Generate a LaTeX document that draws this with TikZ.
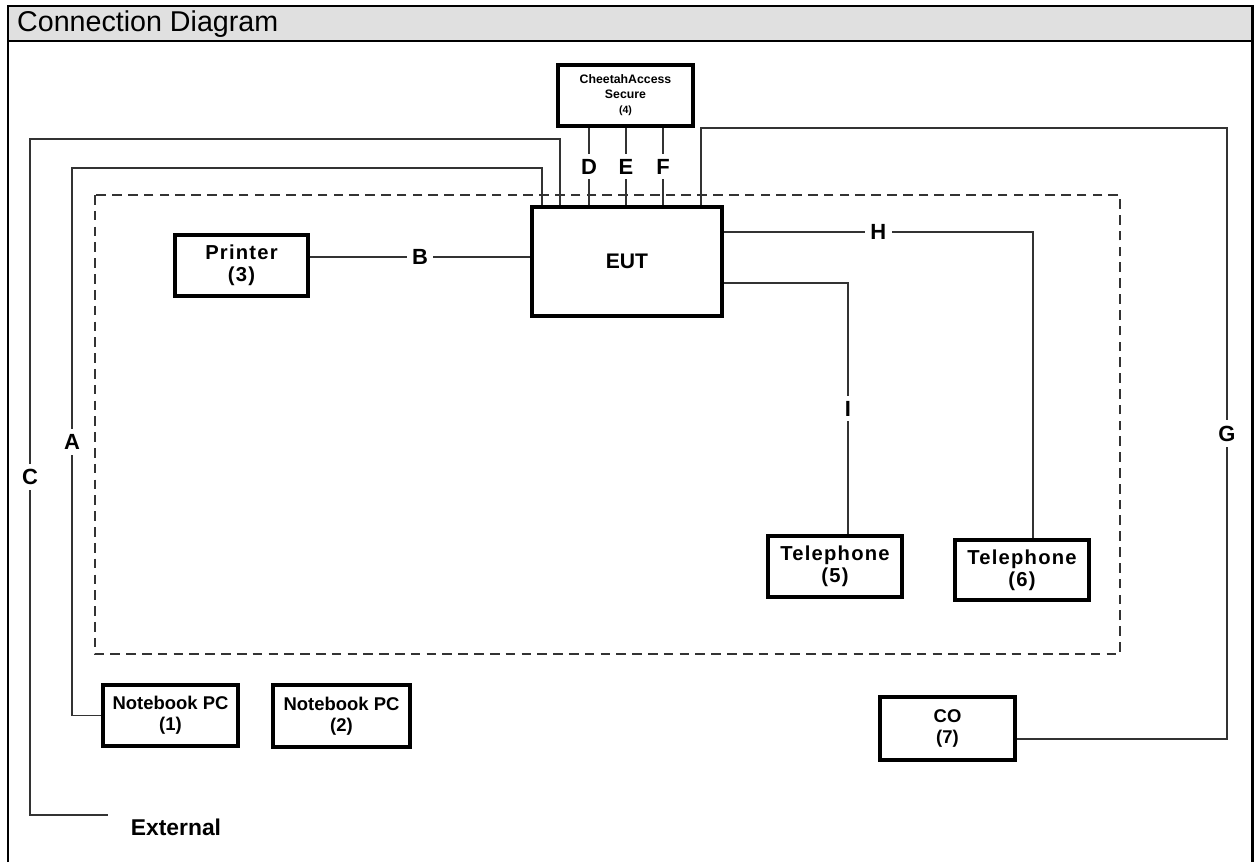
\documentclass[tikz,border=0pt]{standalone}
\usepackage{fontspec}
\setmainfont{Liberation Sans}
\usetikzlibrary{positioning}
\definecolor{hdrgray}{RGB}{224,224,224}
\begin{document}
\begin{tikzpicture}[x=0.02cm, y=-0.02cm,
		unit/.style = {draw, line width=2pt, align=center, inner sep=0pt, font=\fontsize{10.5}{12}\selectfont\bfseries},
		spaced/.style = {font=\fontsize{11.5}{12.5}\selectfont\bfseries\addfontfeature{LetterSpace=6}},
		wire/.style = {black!80, line width=0.6pt},
		tag/.style = {fill=white, text=black, inner sep=3pt, font=\fontsize{12.5}{14}\selectfont\bfseries}]
			\useasboundingbox (0,0) rectangle (1256,862);
			\fill[hdrgray] (8,6) rectangle (1252,41);
			\draw[line width=1.7pt] (8,862) -- (8,6) -- (1252,6) -- (1252,862);
			\draw[line width=1.7pt] (8,41) -- (1252,41);
			\node[anchor=west, font=\fontsize{16.3}{18}\selectfont] (title) at (11,24) {Connection Diagram};
			
			\draw[wire, dash pattern=on 5.5pt off 3.5pt] (95,195) rectangle (1120,654);
			
			\node[unit, minimum width=2.7cm, minimum height=1.22cm, font=\fontsize{7}{8.5}\selectfont\bfseries] (cheetah) at (625.5,95.5) {CheetahAccess\\Secure\\{\fontsize{6}{7}\selectfont(4)}};
			\node[unit, minimum width=3.8cm, minimum height=2.18cm, font=\fontsize{12}{14}\selectfont\bfseries] (eut) at (627,261.5) {EUT};
			\node[unit, spaced, minimum width=2.66cm, minimum height=1.22cm] (printer) at (241.5,265.5) {Printer\\(3)};
			\node[unit, spaced, minimum width=2.68cm, minimum height=1.22cm] (tel5) at (835,566.5) {Telephone\\(5)};
			\node[unit, spaced, minimum width=2.68cm, minimum height=1.2cm] (tel6) at (1022,570) {Telephone\\(6)};
			\node[unit, minimum width=2.7cm, minimum height=1.26cm] (co) at (947.5,728.5) {CO\\(7)};
			\node[unit, minimum width=2.7cm, minimum height=1.22cm] (nb1) at (170.5,715.5) {Notebook PC\\(1)};
			\node[unit, minimum width=2.74cm, minimum height=1.24cm] (nb2) at (341.5,716) {Notebook PC\\(2)};
			\node[font=\fontsize{13}{15}\selectfont\bfseries] (external) at (176,827) {External};
			
			\coordinate (c1) at (560,139);
			\coordinate (c2) at (30,139);
			\coordinate (c3) at (30,815);
			\coordinate (cend) at (108,815);
			\coordinate (a1) at (542,168);
			\coordinate (a2) at (72,168);
			\coordinate (g1) at (701,128);
			\coordinate (g2) at (1227,128);
			\coordinate (g3) at (1227,739);
			\coordinate (h1) at (1033,232);
			\coordinate (i1) at (848,283);
			\coordinate (b1) at (420,257);
			
			\draw[wire] (eut.north -| c1) -- (c1) -- (c2) -- node[tag] {C} (c3) -- (cend);
			\draw[wire] (eut.north -| a1) -- (a1) -- (a2) -- node[tag] {A} (a2 |- nb1.west) -- (nb1.west);
			\draw[wire] (eut.north -| g1) -- (g1) -- (g2) -- node[tag] {G} (g3) -- (co.east |- g3);
			\draw[wire] (eut.east |- h1) -- node[tag] {H} (h1) -- (tel6.north -| h1);
			\draw[wire] (eut.east |- i1) -- (i1) -- node[tag] {I} (tel5.north -| i1);
			\draw[wire] (printer.east |- b1) -- node[tag] {B} (eut.west |- b1);
			\foreach \x/\l in {589/D, 626/E, 663/F} {
				\coordinate (t) at (\x,0);
				\draw[wire] (cheetah.south -| t) -- node[tag] {\l} (eut.north -| t);
			}
		\end{tikzpicture}
\end{document}
